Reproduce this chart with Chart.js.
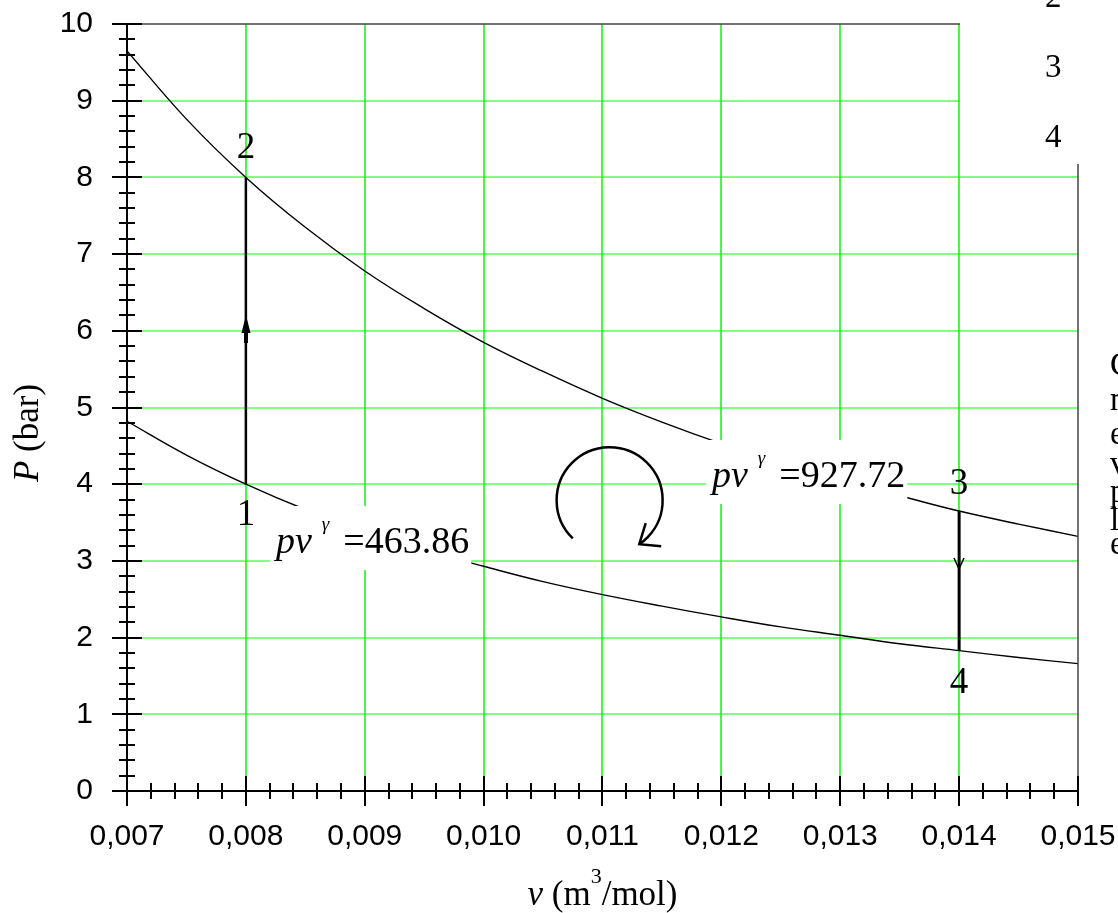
<!DOCTYPE html>
<html>
<head>
<meta charset="utf-8">
<script src="https://cdn.jsdelivr.net/npm/chart.js@4.4.1/dist/chart.umd.min.js"></script>
<style>
  html, body { margin: 0; padding: 0; background: #fff; }
  canvas { display: block; }
</style>
</head>
<body>
<canvas id="chart" width="1118" height="913"></canvas>
<script>
// values
const specificVolume = [0.007, 0.0075, 0.008, 0.0085, 0.009, 0.0095, 0.010, 0.0105, 0.011,
  0.0115, 0.012, 0.0125, 0.013, 0.0135, 0.014, 0.0145, 0.015];
const upperIsentrope = [9.65, 8.76, 8.00, 7.35, 6.78, 6.29, 5.85, 5.47, 5.12,
  4.81, 4.53, 4.28, 4.05, 3.85, 3.65, 3.48, 3.32];
const lowerIsentrope = [4.82, 4.38, 4.00, 3.67, 3.39, 3.14, 2.93, 2.73, 2.56,
  2.41, 2.27, 2.14, 2.03, 1.92, 1.83, 1.74, 1.66];

const xGridValues = [0.008, 0.009, 0.010, 0.011, 0.012, 0.013, 0.014];
const yGridValues = [1, 2, 3, 4, 5, 6, 7, 8, 9];

const processV = [0.008, 0.014];
const processStartP = [4, 3.65];
const processEndP = [8, 1.83];
const arrowP = [6.2, 2.9];

const stateLabels = ["1", "2", "3", "4"];
const stateLabelV = [0.008, 0.008, 0.014, 0.014];
const stateLabelP = [3.6, 8.38, 4.0, 1.41];

const curveConstants = ["927.72", "463.86"];
const curveLabelV = [0.01192, 0.00825];
const curveLabelP = [3.96, 3.10];

const cycleCenterV = 0.01106;
const cycleCenterP = 3.79;

const sideNumbers = ["2", "3", "4"];
const sideLetters = ["C", "n", "e", "v", "p", "l", "e"];

const SERIF = "\"Liberation Serif\", \"Times New Roman\", serif";
const SANS = "\"Liberation Sans\", Arial, sans-serif";

const toPoints = (xs, ys) => xs.map((v, i) => ({ x: v, y: ys[i] }));

// draw a row of text pieces with different fonts, returns the end x
function drawRuns(ctx, runs, x, y){
  let cx = x;
  for(const r of runs){
    cx += r.gap || 0;
    if(!r.t) continue;
    ctx.font = r.font;
    ctx.fillText(r.t, cx, y + (r.dy || 0));
    cx += ctx.measureText(r.t).width;
  }
  return cx;
}
function measureRuns(ctx, runs){
  let w = 0;
  for(const r of runs){
    w += r.gap || 0;
    if(!r.t) continue;
    ctx.font = r.font;
    w += ctx.measureText(r.t).width;
  }
  return w;
}

// green grid drawn by hand so every line lands on a whole pixel
const gridLines = {
  id: "gridLines",
  beforeDatasetsDraw: chart => {
    const ctx = chart.ctx;
    const xs = chart.scales.x;
    const ys = chart.scales.y;
    const a = chart.chartArea;
    ctx.save();
    ctx.strokeStyle = "#80ff80";
    ctx.lineWidth = 2;
    ctx.beginPath();
    yGridValues.forEach(v => {
      const y = Math.round(ys.getPixelForValue(v));
      ctx.moveTo(a.left, y);
      ctx.lineTo(a.right, y);
    });
    ctx.stroke();
    ctx.strokeStyle = "#10f010";
    ctx.lineWidth = 1.5;
    ctx.beginPath();
    xGridValues.forEach(v => {
      const x = Math.round(xs.getPixelForValue(v));
      ctx.moveTo(x, a.top);
      ctx.lineTo(x, a.bottom);
    });
    ctx.stroke();
    ctx.restore();
  }
};

const decorations = {
  id: "decorations",
  afterDatasetsDraw: chart => {
    const ctx = chart.ctx;
    const xs = chart.scales.x;
    const ys = chart.scales.y;
    const a = chart.chartArea;
    const px = v => Math.round(xs.getPixelForValue(v));
    const py = v => Math.round(ys.getPixelForValue(v));

    ctx.save();

    // frame: thin grey top/right, black axes
    ctx.strokeStyle = "#444";
    ctx.lineWidth = 1.5;
    ctx.beginPath();
    ctx.moveTo(a.left, a.top);
    ctx.lineTo(a.right, a.top);
    ctx.lineTo(a.right, a.bottom);
    ctx.stroke();

    ctx.strokeStyle = "#000";
    ctx.lineWidth = 2;
    ctx.beginPath();
    ctx.moveTo(a.left, a.top);
    ctx.lineTo(a.left, a.bottom);
    ctx.lineTo(a.right, a.bottom);
    // major + minor ticks across the axes
    for(let i = 0; i <= 50; i++){
      const y = py(i * 0.2);
      const len = i % 5 === 0 ? 15 : 8;
      ctx.moveTo(a.left - len, y);
      ctx.lineTo(a.left + len, y);
    }
    for(let i = 0; i <= 40; i++){
      const x = px(0.007 + i * 0.0002);
      const len = i % 5 === 0 ? 15 : 8;
      ctx.moveTo(x, a.bottom - len);
      ctx.lineTo(x, a.bottom + len);
    }
    ctx.stroke();

    // curve labels on white boxes
    ctx.textBaseline = "alphabetic";
    ctx.textAlign = "left";
    curveConstants.forEach((c, i) => {
      const runs = [
        { t: "p", font: "italic 38px " + SERIF },
        { t: "v", font: "italic 38px " + SERIF },
        { t: "\u03b3", font: "italic 19px " + SERIF, dy: -23, gap: 10 },
        { t: "=", font: "38px " + SERIF, gap: 14 },
        { t: c, font: "38px " + SERIF }
      ];
      const x = px(curveLabelV[i]);
      const y = py(curveLabelP[i]);
      const w = measureRuns(ctx, runs);
      ctx.fillStyle = "#fff";
      ctx.fillRect(x - 6, y - 47, w + 8, 64);
      ctx.fillStyle = "#000";
      drawRuns(ctx, runs, x, y);
    });

    // state numbers
    ctx.font = "37px " + SERIF;
    ctx.textAlign = "center";
    ctx.textBaseline = "middle";
    stateLabels.forEach((s, i) => {
      ctx.fillText(s, px(stateLabelV[i]), py(stateLabelP[i]));
    });

    // arrow on 1-2 (filled, up)
    ctx.fillStyle = "#000";
    let ax = px(processV[0]);
    let ay = py(arrowP[0]);
    ctx.beginPath();
    ctx.moveTo(ax, ay);
    ctx.lineTo(ax - 4.5, ay + 18);
    ctx.lineTo(ax + 4.5, ay + 18);
    ctx.closePath();
    ctx.fill();
    ctx.fillRect(ax - 2, ay + 16, 4, 12);

    // arrow on 3-4 (open, down)
    ax = px(processV[1]);
    ay = py(arrowP[1]);
    ctx.lineWidth = 1.5;
    ctx.beginPath();
    ctx.moveTo(ax - 5, ay - 11);
    ctx.lineTo(ax, ay);
    ctx.lineTo(ax + 5, ay - 11);
    ctx.stroke();

    // clockwise cycle arrow
    const cx = xs.getPixelForValue(cycleCenterV);
    const cy = ys.getPixelForValue(cycleCenterP);
    const r = 53;
    const start = 134 * Math.PI / 180;
    const end = (360 + 56) * Math.PI / 180;
    ctx.lineWidth = 2.5;
    ctx.beginPath();
    ctx.arc(cx, cy, r, start, end, false);
    ctx.stroke();
    const tx = cx + r * Math.cos(end);
    const ty = cy + r * Math.sin(end);
    const back = Math.atan2(-Math.cos(end), Math.sin(end));
    ctx.beginPath();
    ctx.moveTo(tx + 22 * Math.cos(back - 0.68), ty + 22 * Math.sin(back - 0.68));
    ctx.lineTo(tx, ty);
    ctx.lineTo(tx + 22 * Math.cos(back + 0.68), ty + 22 * Math.sin(back + 0.68));
    ctx.stroke();

    // axis titles
    ctx.textAlign = "left";
    ctx.textBaseline = "alphabetic";
    const yTitle = [
      { t: "P", font: "italic 35px " + SERIF },
      { t: " (bar)", font: "35px " + SERIF }
    ];
    ctx.save();
    ctx.translate(38, 433);
    ctx.rotate(-Math.PI / 2);
    drawRuns(ctx, yTitle, -measureRuns(ctx, yTitle) / 2, 0);
    ctx.restore();

    const xTitle = [
      { t: "v", font: "italic 35px " + SERIF },
      { t: " (m", font: "35px " + SERIF },
      { t: "3", font: "22px " + SERIF, dy: -22 },
      { t: "/mol)", font: "35px " + SERIF }
    ];
    drawRuns(ctx, xTitle, (a.left + a.right) / 2 - measureRuns(ctx, xTitle) / 2, 905);

    // page fragment overlapping the top right corner
    const edge = px(0.014) + 1;
    ctx.fillStyle = "#fff";
    ctx.fillRect(edge, 0, chart.width - edge, 164);
    ctx.fillStyle = "#000";
    ctx.font = "33px " + SERIF;
    sideNumbers.forEach((n, i) => {
      ctx.fillText(n, 1045, 7 + i * 70);
    });
    const letterBase = [375, 410, 444, 474, 502, 530, 554];
    sideLetters.forEach((l, i) => {
      ctx.fillText(l, 1110, letterBase[i]);
    });

    ctx.restore();
  }
};

const lineStyle = {
  showLine: true,
  borderColor: "#000",
  backgroundColor: "#000",
  pointRadius: 0,
  fill: false
};

const noOverflow = s => {
  s.paddingTop = 0;
  s.paddingBottom = 0;
  s.paddingLeft = 0;
  s.paddingRight = 0;
};

// eslint-disable-next-line no-new
new Chart(document.getElementById("chart"), {
  type: "scatter",
  plugins: [gridLines, decorations],
  data: {
    datasets: [
      { ...lineStyle, label: "pv^g = 927.72", data: toPoints(specificVolume, upperIsentrope), borderWidth: 1.4, tension: 0.4 },
      { ...lineStyle, label: "pv^g = 463.86", data: toPoints(specificVolume, lowerIsentrope), borderWidth: 1.4, tension: 0.4 },
      { ...lineStyle, label: "1-2", data: [{ x: processV[0], y: processStartP[0] }, { x: processV[0], y: processEndP[0] }], borderWidth: 2.5 },
      { ...lineStyle, label: "3-4", data: [{ x: processV[1], y: processStartP[1] }, { x: processV[1], y: processEndP[1] }], borderWidth: 3 }
    ]
  },
  options: {
    responsive: false,
    animation: false,
    events: [],
    layout: {
      padding: { top: 24, right: 40, left: 0, bottom: 0 }
    },
    plugins: {
      legend: { display: false },
      tooltip: { enabled: false }
    },
    scales: {
      x: {
        type: "linear",
        min: 0.007,
        max: 0.015,
        afterFit: s => { s.height = 122; noOverflow(s); },
        border: { display: false },
        grid: { display: false },
        ticks: {
          stepSize: 0.001,
          autoSkip: false,
          maxRotation: 0,
          padding: 20,
          color: "#000",
          font: { family: SANS, size: 30 },
          callback: v => v.toFixed(3).replace(".", ",")
        }
      },
      y: {
        min: 0,
        max: 10,
        afterFit: s => { s.width = 127; noOverflow(s); },
        border: { display: false },
        grid: { display: false },
        ticks: {
          stepSize: 1,
          padding: 26,
          color: "#000",
          font: { family: SANS, size: 30 }
        }
      }
    }
  }
});
</script>
</body>
</html>
